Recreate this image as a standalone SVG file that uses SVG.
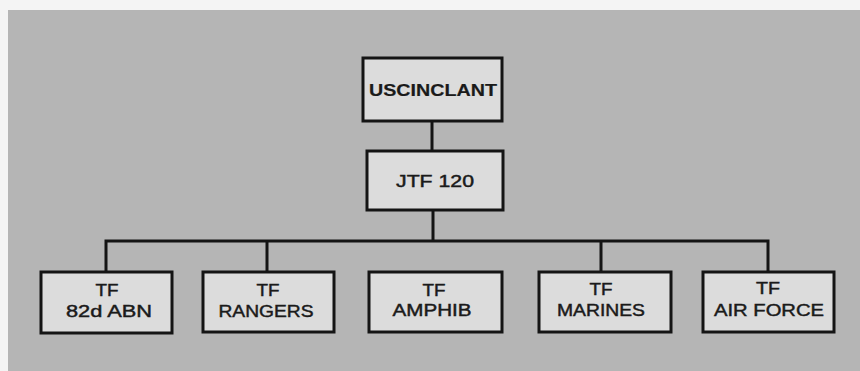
<svg xmlns="http://www.w3.org/2000/svg" width="860" height="371" viewBox="0 0 860 371">
<style>
.box{fill:#dcdcdc;stroke:#141414;stroke-width:3}
.ln{fill:none;stroke:#141414;stroke-width:3}
text{font-family:"Liberation Sans",Arial,sans-serif;font-size:17px;fill:#1a1a1a;stroke:#1a1a1a;stroke-width:0.45;text-anchor:middle}
.b{font-weight:bold;stroke-width:0.2}
</style>
<rect x="0" y="0" width="860" height="371" fill="#f4f4f4"/>
<rect x="8" y="10" width="852" height="361" fill="#b5b5b5"/>
<g id="connectors">
<path class="ln" d="M432 121V151M433 210V241M106 272V241H768V272M267 241V272M601 241V272"/>
</g>
<g id="uscinclant"><rect class="box" x="363" y="58" width="139" height="63"/><text class="b" x="433" y="96" textLength="128" lengthAdjust="spacingAndGlyphs">USCINCLANT</text></g>
<g id="jtf120"><rect class="box" x="367" y="151" width="136" height="59"/><text x="435" y="187" textLength="78" lengthAdjust="spacingAndGlyphs">JTF 120</text></g>
<g id="tf82"><rect class="box" x="41" y="272" width="131" height="61"/><text x="107" y="296" textLength="23" lengthAdjust="spacingAndGlyphs">TF</text><text x="109" y="317" textLength="86" lengthAdjust="spacingAndGlyphs">82d ABN</text></g>
<g id="tfrangers"><rect class="box" x="203" y="272" width="131" height="60"/><text x="268" y="296" textLength="23" lengthAdjust="spacingAndGlyphs">TF</text><text x="266" y="317" textLength="95" lengthAdjust="spacingAndGlyphs">RANGERS</text></g>
<g id="tfamphib"><rect class="box" x="369" y="272" width="133" height="60"/><text x="434" y="296" textLength="23" lengthAdjust="spacingAndGlyphs">TF</text><text x="432" y="316" textLength="79" lengthAdjust="spacingAndGlyphs">AMPHIB</text></g>
<g id="tfmarines"><rect class="box" x="539" y="272" width="132" height="60"/><text x="601" y="295" textLength="23" lengthAdjust="spacingAndGlyphs">TF</text><text x="601" y="316" textLength="88" lengthAdjust="spacingAndGlyphs">MARINES</text></g>
<g id="tfairforce"><rect class="box" x="703" y="272" width="131" height="60"/><text x="768" y="294" textLength="24" lengthAdjust="spacingAndGlyphs">TF</text><text x="769" y="316" textLength="110" lengthAdjust="spacingAndGlyphs">AIR FORCE</text></g>
</svg>
